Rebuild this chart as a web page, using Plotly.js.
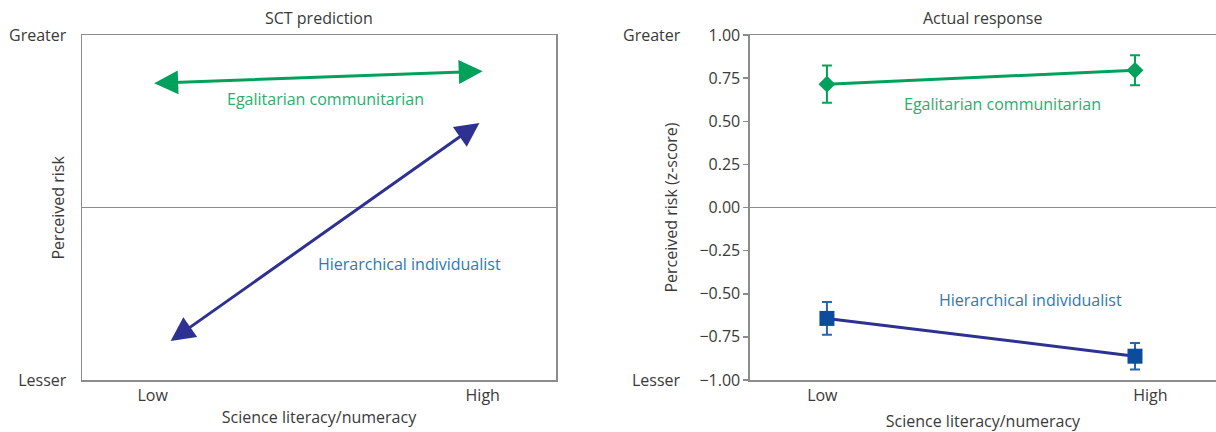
<!DOCTYPE html>
<html>
<head>
<meta charset="utf-8">
<script src="https://cdn.plot.ly/plotly-3.0.1.min.js"></script>
<style>html,body{margin:0;padding:0;background:#fff;}#chart{width:1216px;height:432px;}</style>
</head>
<body>
<div id="chart"></div>
<script>
// ---- data ----
const xCategories = ['Low', 'High'];
const xValues = [0, 1];
const leftYTickLabels = ['Lesser', 'Greater'];
const leftYTickVals = [-1, 1];

// SCT prediction (schematic arrows): [start, end]
const predEgalX = [0, 1];
const predEgalY = [0.72, 0.79];
const predHierX = [0.05, 0.99];
const predHierY = [-0.78, 0.49];

// Actual response (z-scores)
const actualEgalY = [0.715, 0.795];
const actualEgalErr = [0.108, 0.087];
const actualHierY = [-0.643, -0.862];
const actualHierErr = [0.095, 0.077];

const rightTickPos = [-0.015, 1.05];

// ---- styles ----
const GREEN = '#00A25B';
const GREEN_TXT = '#2BAE6C';
const BLUE_LINE = '#2E3192';
const BLUE_MK = '#0B4C9C';
const BLUE_ERR = '#2A63AE';
const BLUE_TXT = '#2C7AB4';
const GRAY = '#8C8C8C';
const TXT = '#3A3A3A';
const FONT = 'Open Sans, Noto Sans, sans-serif';

const traces = [
  // invisible anchor trace for left subplot
  {x: predEgalX, y: predEgalY, xaxis: 'x', yaxis: 'y', mode: 'markers',
   marker: {opacity: 0}, hoverinfo: 'skip', showlegend: false},
  {x: xValues, y: actualEgalY, xaxis: 'x2', yaxis: 'y2', mode: 'lines+markers',
   line: {color: GREEN, width: 3},
   marker: {symbol: 'diamond', size: 13, color: GREEN},
   error_y: {type: 'data', array: actualEgalErr, visible: true, color: GREEN, thickness: 2, width: 5},
   showlegend: false, name: 'Egalitarian communitarian'},
  {x: xValues, y: actualHierY, xaxis: 'x2', yaxis: 'y2', mode: 'lines+markers',
   line: {color: BLUE_LINE, width: 3},
   marker: {symbol: 'square', size: 15, color: BLUE_MK},
   error_y: {type: 'data', array: actualHierErr, visible: true, color: BLUE_ERR, thickness: 2, width: 5},
   showlegend: false, name: 'Hierarchical individualist'}
];

function arrowAnn(xs, ys, color) {
  return {xref: 'x', yref: 'y', axref: 'x', ayref: 'y',
    x: xs[1], y: ys[1], ax: xs[0], ay: ys[0], text: '',
    showarrow: true, arrowside: 'end+start', arrowhead: 2, startarrowhead: 2,
    arrowwidth: 3, arrowsize: 1.6, startarrowsize: 1.6,
    standoff: 0, startstandoff: 0, arrowcolor: color};
}

const annotations = [
  arrowAnn(predEgalX, predEgalY, GREEN),
  arrowAnn(predHierX, predHierY, BLUE_LINE),
  {xref: 'x', yref: 'y', x: 0.525, y: 0.629, text: 'Egalitarian communitarian', showarrow: false,
   font: {family: FONT, size: 16, color: GREEN_TXT}},
  {xref: 'x', yref: 'y', x: 0.778, y: -0.328, text: 'Hierarchical individualist', showarrow: false,
   font: {family: FONT, size: 16, color: BLUE_TXT}},
  {xref: 'x2', yref: 'y2', x: 0.57, y: 0.598, text: 'Egalitarian communitarian', showarrow: false,
   font: {family: FONT, size: 16, color: GREEN_TXT}},
  {xref: 'x2', yref: 'y2', x: 0.662, y: -0.536, text: 'Hierarchical individualist', showarrow: false,
   font: {family: FONT, size: 16, color: BLUE_TXT}},
  // subplot titles
  {xref: 'x domain', yref: 'paper', x: 0.5, y: 1, yanchor: 'bottom', yshift: 4,
   text: 'SCT prediction', showarrow: false, font: {family: FONT, size: 16, color: TXT}},
  {xref: 'x2 domain', yref: 'paper', x: 0.5, y: 1, yanchor: 'bottom', yshift: 4,
   text: 'Actual response', showarrow: false, font: {family: FONT, size: 16, color: TXT}},
  // left y title
  {xref: 'paper', yref: 'y', x: 0, xshift: -38, y: 0, text: 'Perceived risk', textangle: -90,
   showarrow: false, font: {family: FONT, size: 16, color: TXT}},
  // right Greater/Lesser
  {xref: 'x2 domain', yref: 'y2', x: -0.144, y: 1, xanchor: 'right', text: 'Greater', showarrow: false,
   font: {family: FONT, size: 16, color: TXT}},
  {xref: 'x2 domain', yref: 'y2', x: -0.144, y: -1, xanchor: 'right', text: 'Lesser', showarrow: false,
   font: {family: FONT, size: 16, color: TXT}}
];

const axisFont = {family: FONT, size: 16, color: TXT};

const layout = {
  width: 1216, height: 432,
  margin: {l: 82, r: 0, t: 35, b: 52},
  paper_bgcolor: '#fff', plot_bgcolor: '#fff',
  font: {family: FONT, size: 16, color: TXT},
  showlegend: false,
  xaxis: {domain: [0, 0.418], range: [-0.214, 1.222], tickvals: xValues, ticktext: xCategories,
    showline: true, mirror: true, linecolor: GRAY, linewidth: 1.5, showgrid: false, zeroline: false,
    ticks: '', tickfont: axisFont, fixedrange: true,
    title: {text: 'Science literacy/numeracy', font: axisFont, standoff: 7}},
  yaxis: {domain: [0, 1], range: [-1, 1], tickvals: leftYTickVals, ticktext: leftYTickLabels,
    showline: true, mirror: true, linecolor: GRAY, linewidth: 1.5, showgrid: false,
    zeroline: true, zerolinecolor: GRAY, zerolinewidth: 1.5,
    ticks: 'outside', ticklen: 11, tickcolor: 'rgba(0,0,0,0)', tickfont: axisFont, fixedrange: true},
  xaxis2: {domain: [0.589, 1], anchor: 'y2', range: [-0.25, 1.263], tickvals: rightTickPos, ticktext: xCategories,
    showline: true, mirror: true, linecolor: GRAY, linewidth: 1.5, showgrid: false, zeroline: false,
    ticks: '', tickfont: axisFont, fixedrange: true,
    title: {text: 'Science literacy/numeracy', font: axisFont, standoff: 12}},
  yaxis2: {domain: [0, 1], anchor: 'x2', range: [-1, 1], dtick: 0.25, tick0: 0, tickformat: '.2f',
    showline: true, mirror: false, linecolor: GRAY, linewidth: 1.5, showgrid: false,
    zeroline: true, zerolinecolor: GRAY, zerolinewidth: 1.5,
    ticks: 'outside', ticklen: 5, tickcolor: GRAY, tickwidth: 1.5, tickfont: axisFont, fixedrange: true,
    title: {text: 'Perceived risk (z-score)', font: axisFont, standoff: 18}},
  annotations: annotations
};

Plotly.newPlot('chart', traces, layout, {displayModeBar: false, staticPlot: true});
</script>
</body>
</html>
